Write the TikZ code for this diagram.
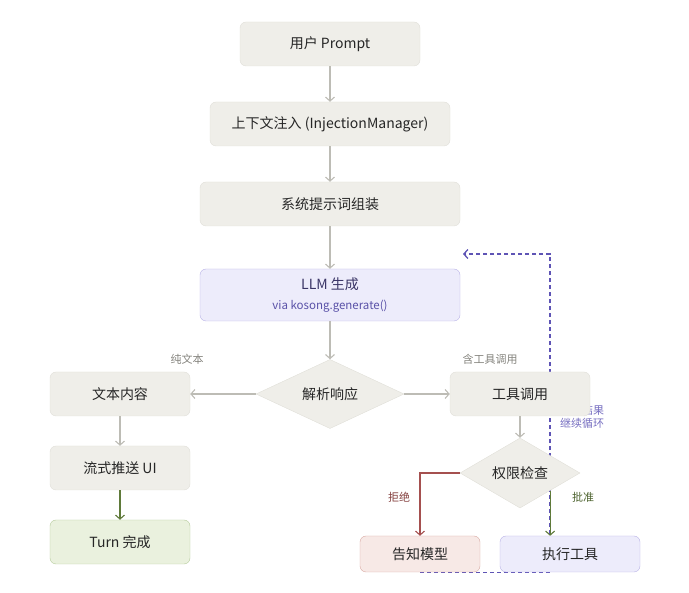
\documentclass[tikz,border=0pt]{standalone}
\usepackage{fontspec}
\setmainfont{Noto Sans CJK SC}
\usepackage{xcolor}
\usetikzlibrary{shapes.geometric,arrows.meta,positioning,backgrounds}
\definecolor{boxfill}{HTML}{EFEEE9}
\definecolor{boxline}{HTML}{E0DFD8}
\definecolor{llmfill}{HTML}{EDECFB}
\definecolor{llmline}{HTML}{B9B3E6}
\definecolor{edgegray}{HTML}{BDBCB5}
\definecolor{donefill}{HTML}{EAF1DE}
\definecolor{doneline}{HTML}{B5CB9B}
\definecolor{okgreen}{HTML}{5F7A3A}
\definecolor{denyfill}{HTML}{F7E9E6}
\definecolor{denyline}{HTML}{D8A9A2}
\definecolor{denyred}{HTML}{A5504F}
\definecolor{loopblue}{HTML}{5E54B5}
\definecolor{textdark}{HTML}{262626}
\definecolor{labelgray}{HTML}{85847E}
\tikzset{
  box/.style={draw=boxline, fill=boxfill, rounded corners=6pt, minimum width=140pt, minimum height=44pt, text centered, text=textdark, font=\fontsize{14}{16}\selectfont},
  llmbox/.style={box, draw=llmline, fill=llmfill},
  donebox/.style={box, draw=doneline, fill=donefill},
  denybox/.style={box, draw=denyline, fill=denyfill, minimum height=36pt},
  decision/.style={diamond, draw=boxline, fill=boxfill, inner sep=0pt, text=textdark, font=\fontsize{14}{16}\selectfont},
  flow/.style={draw=edgegray, line width=1.1pt, -{Straight Barb[length=4pt,width=9pt]}},
  edgelabel/.style={text=labelgray, font=\fontsize{11}{13}\selectfont},
  loopedge/.style={draw=loopblue, line width=1.3pt, dash pattern=on 4pt off 3pt, -{Straight Barb[length=4pt,width=9pt]}}
}
\begin{document}
\begin{tikzpicture}[x=1pt, y=-1pt]
  \useasboundingbox (0,0) rectangle (689,593);

  % main chain
  \node[box, minimum width=180pt] (prompt) at (330,44) {用户 Prompt};
  \node[box, minimum width=240pt] (inject) at (330,124) {上下文注入 (InjectionManager)};
  \node[box, minimum width=260pt] (sysprompt) at (330,204) {系统提示词组装};
  \node[llmbox, minimum width=260pt, minimum height=52pt, align=center] (llm) at (330,295)
    {{\color[HTML]{3A3566}LLM 生成}\\[4pt]{\fontsize{11.5}{13}\selectfont\color[HTML]{5A52A8}via kosong.generate()}};
  \node[decision, minimum width=148pt, minimum height=68pt] (parse) at (330,394) {解析响应};

  % text branch
  \node[box] (text) at (120,394) {文本内容};
  \node[box] (stream) at (120,468) {流式推送 UI};
  \node[donebox] (done) at (120,542) {Turn 完成};

  % tool branch
  \node[box] (tool) at (520,394) {工具调用};
  \node[decision, minimum width=120pt, minimum height=70pt] (perm) at (520,473) {权限检查};
  \node[denybox, minimum width=120pt] (inform) at (420,554) {告知模型};
  \node[llmbox, minimum width=140pt, minimum height=36pt] (exec) at (570,554) {执行工具};

  % loop back to the model
  \coordinate (looptop) at (550,254);
  \coordinate (loopback) at (463,254);
  \begin{pgfonlayer}{background}
    \draw[loopedge] (inform.south) -| (looptop) -- (loopback);
    \node[align=center, text=loopblue!85, font=\fontsize{11}{13}\selectfont, inner sep=0pt] (looplbl) at (582,417) {工具结果\\继续循环};
  \end{pgfonlayer}

  \draw[flow] (prompt) -- (inject);
  \draw[flow] (inject) -- (sysprompt);
  \draw[flow] (sysprompt) -- (llm);
  \draw[flow] (llm) -- (parse);
  \draw[flow] (parse) -- (text);
  \draw[flow] (parse) -- (tool);
  \draw[flow] (text) -- (stream);
  \draw[flow, draw=okgreen] (stream) -- (done);
  \draw[flow] (tool) -- (perm);
  \draw[flow, draw=denyred] (perm.west) -| (inform.north);
  \draw[flow, draw=okgreen] (perm.south east) -- (perm.south east |- exec.north);

  % edge labels
  \node[edgelabel] (lblplain) at (187,359) {纯文本};
  \node[edgelabel] (lbltool) at (490,359) {含工具调用};
  \node[edgelabel, text=denyred!80!black] (lbldeny) at (399,497) {拒绝};
  \node[edgelabel, text=okgreen!80!black] (lblok) at (583,497) {批准};
\end{tikzpicture}
\end{document}
